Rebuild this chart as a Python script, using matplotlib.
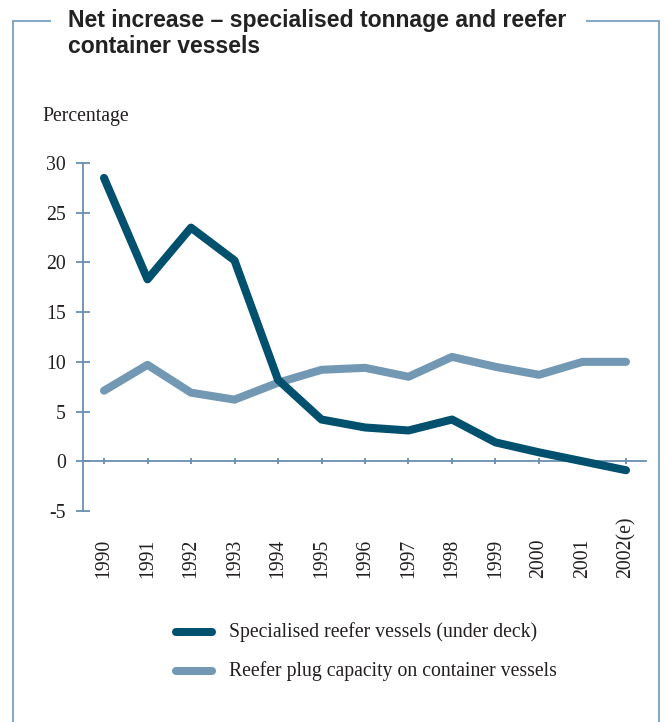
import matplotlib
matplotlib.use("Agg")
import matplotlib.pyplot as plt
from matplotlib.lines import Line2D
from matplotlib.transforms import blended_transform_factory

years = [1990, 1991, 1992, 1993, 1994, 1995, 1996, 1997, 1998, 1999, 2000, 2001, 2002]
year_labels = ["1990", "1991", "1992", "1993", "1994", "1995", "1996",
               "1997", "1998", "1999", "2000", "2001", "2002(e)"]
reefer_vessels = [28.5, 18.3, 23.5, 20.2, 8.2, 4.2, 3.4, 3.1, 4.2, 1.9, 0.9, 0.0, -0.9]
plug_capacity = [7.1, 9.7, 6.9, 6.2, 7.9, 9.2, 9.4, 8.5, 10.5, 9.5, 8.7, 10.0, 10.0]
y_ticks = [-5, 0, 5, 10, 15, 20, 25, 30]

dark = "#00506e"
light = "#7298b3"
axis_col = "#6a8fb0"
frame_col = "#86a9c4"
text_col = "#231f20"
serif = "Liberation Serif"
fs = 14.2

W, H = 664, 722
fig = plt.figure(figsize=(W / 100, H / 100), dpi=100)

def fx(px):
    return px / W

def fy(py):
    return 1 - py / H

# axes box: y axis at x=83px, y=30 at 163px, y=-5 at 511px
ax = fig.add_axes([fx(83), fy(511), fx(646) - fx(83), fy(163) - fy(511)])
ax.set_xlim(1989.517, 2002.46)
ax.set_ylim(-5, 30)

lw = 5.8
ax.plot(years, plug_capacity, color=light, lw=lw, solid_capstyle="round",
        solid_joinstyle="round", clip_on=False, zorder=3)
ax.plot(years, reefer_vessels, color=dark, lw=lw, solid_capstyle="round",
        solid_joinstyle="round", clip_on=False, zorder=4)

for side in ("top", "right"):
    ax.spines[side].set_visible(False)
ax.spines["bottom"].set_position(("data", 0))
for side in ("left", "bottom"):
    ax.spines[side].set_color(axis_col)
    ax.spines[side].set_linewidth(1.3)

ax.set_yticks(y_ticks)
ax.set_yticklabels([str(v) for v in y_ticks], fontfamily=serif, fontsize=fs, color=text_col)
ax.tick_params(axis="y", direction="inout", length=10, width=1.3, color=axis_col, pad=7.5)
ax.set_xticks(years)
ax.set_xticklabels([])
ax.tick_params(axis="x", direction="inout", length=5, width=1.3, color=axis_col)

# year labels, rotated and aligned on their starting edge
lab_tr = blended_transform_factory(ax.transData, fig.transFigure)
for yr, lab in zip(years, year_labels):
    ax.text(yr, fy(578), lab, transform=lab_tr, rotation=90, ha="center",
            va="bottom", fontfamily=serif, fontsize=fs, color=text_col)

fig.text(fx(42), fy(116), "Percentage", fontfamily=serif, fontsize=fs,
         color=text_col, va="center", ha="left")

fig.text(fx(68), fy(9), "Net increase \u2013 specialised tonnage and reefer\ncontainer vessels",
         fontfamily="Liberation Sans", fontweight="bold", fontsize=16.6, color="#222222",
         va="top", ha="left", linespacing=1.15)

# frame around the panel
frame_kw = dict(color=frame_col, lw=1.5, transform=fig.transFigure)
fig.add_artist(Line2D([fx(13), fx(50)], [fy(21), fy(21)], **frame_kw))
fig.add_artist(Line2D([fx(587), fx(659)], [fy(21), fy(21)], **frame_kw))
fig.add_artist(Line2D([fx(13), fx(13)], [fy(21), 0], **frame_kw))
fig.add_artist(Line2D([fx(659), fx(659)], [fy(21), 0], **frame_kw))

# legend
leg_rows = [(dark, "Specialised reefer vessels (under deck)", 632),
            (light, "Reefer plug capacity on container vessels", 671)]
for col, lab, py in leg_rows:
    fig.add_artist(Line2D([fx(176), fx(212)], [fy(py), fy(py)], color=col, lw=lw,
                          solid_capstyle="round", transform=fig.transFigure))
    fig.text(fx(229), fy(py), lab, fontfamily=serif, fontsize=fs, color=text_col,
             va="center", ha="left")

fig.savefig("out.png", dpi=100)
